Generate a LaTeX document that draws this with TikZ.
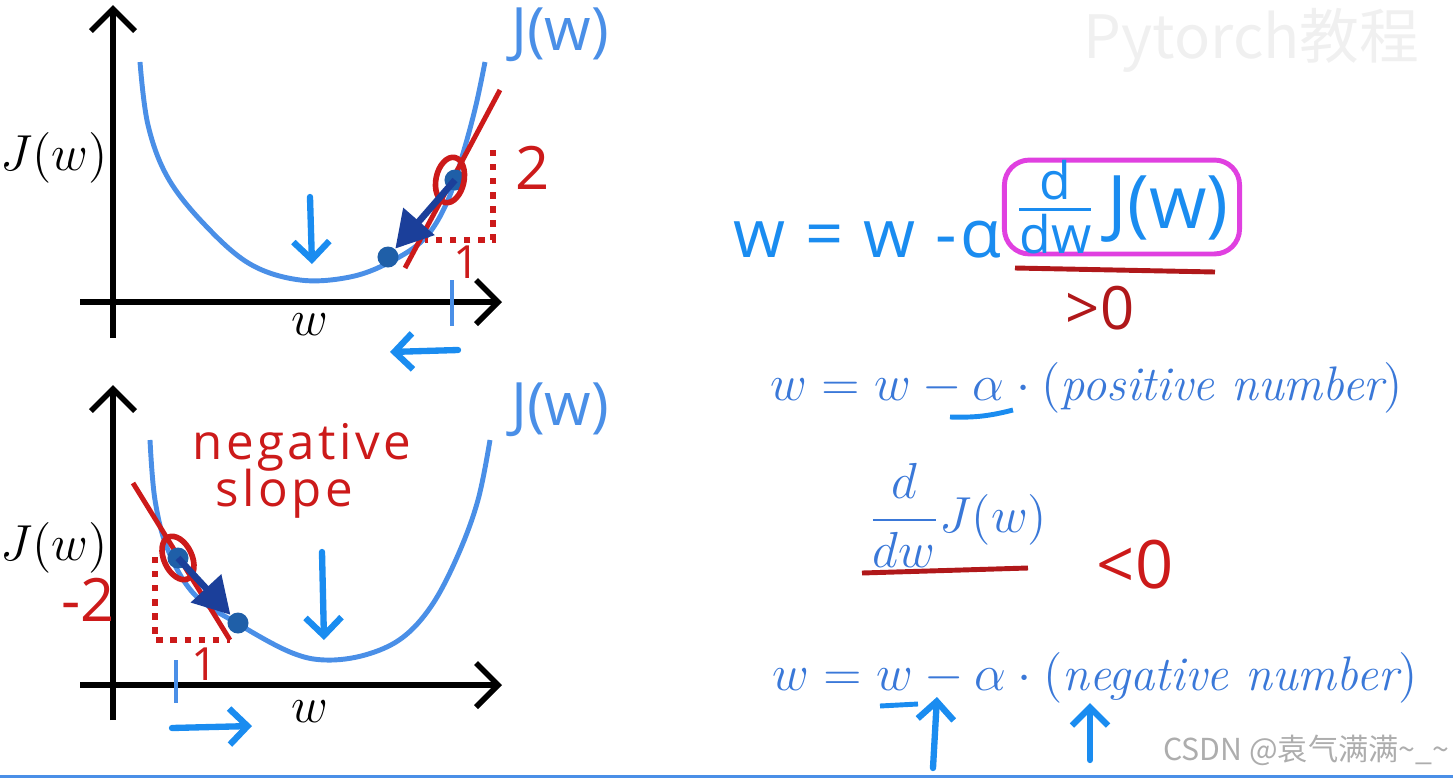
\documentclass[tikz,border=0pt]{standalone}
\usepackage{amsmath}
\usepackage{fontspec}
\usepackage{xcolor}
\usetikzlibrary{positioning, calc, arrows.meta, shapes.geometric}
\newfontfamily\handfont{Open Sans}
\newfontfamily\cjkfont{Noto Sans CJK SC}
\definecolor{curveblue}{HTML}{4A8FE7}
\definecolor{hintblue}{HTML}{1A8CF0}
\definecolor{eqblue}{HTML}{3A78D8}
\definecolor{ptblue}{HTML}{1F5FA8}
\definecolor{gradblue}{HTML}{1B3F9A}
\definecolor{slopered}{HTML}{CC1A1A}
\definecolor{darkred}{HTML}{B0181A}
\definecolor{boxpink}{HTML}{E040E0}

\begin{document}
\begin{tikzpicture}[x=0.01cm, y=-0.01cm, every node/.style={inner sep=0pt}]
  \tikzstyle{axis}=[line width=1.6pt, -{Straight Barb[length=2.2mm,width=4.4mm]}]
  \tikzstyle{cost}=[curveblue, line width=1.4pt]
  \tikzstyle{tangent}=[slopered, line width=1.4pt]
  \tikzstyle{dots}=[slopered, line width=1.8pt, dash pattern=on 1.8pt off 2.2pt]
  \tikzstyle{pt}=[circle, fill=ptblue, minimum size=0.21cm]
  \tikzstyle{ring}=[ellipse, draw=slopered, line width=1.6pt, minimum width=0.28cm, minimum height=0.46cm]
  \tikzstyle{grad}=[gradblue, line width=1.9pt, -{Triangle[length=3.6mm,width=4mm]}]
  \tikzstyle{hint}=[hintblue, line width=1.8pt, line cap=round, -{Straight Barb[length=1.8mm,width=3.6mm]}]
  \tikzstyle{tick}=[curveblue, line width=1.2pt]
  \tikzstyle{lbl}=[font=\fontsize{14.5}{17}\selectfont]
  \tikzstyle{hand}=[font=\handfont\fontsize{17}{20}\selectfont]
  \tikzstyle{spaced}=[font=\handfont\fontsize{14}{16}\selectfont\addfontfeature{LetterSpace=7}]
  \tikzstyle{eq}=[text=eqblue, font=\fontsize{13.8}{16}\selectfont]
  \useasboundingbox (0,0) rectangle (1453,778);

  % top plot: positive slope
  \coordinate (ytopS) at (113,338);
  \coordinate (ytopE) at (113,5);
  \coordinate (xtopS) at (80,302);
  \coordinate (xtopE) at (502,302);
  \draw[axis] (ytopS) -- (ytopE);
  \draw[axis] (xtopS) -- (xtopE);
  \node[lbl] (Jtop) at (54,158) {$J(w)$};
  \node[lbl] (wtop) at (310,325) {$w$};
  \draw[cost] plot[smooth, tension=0.6] coordinates {(140,62) (148,125) (168,178) (205,225) (250,264) (300,280) (350,277) (390,262) (425,238) (448,200) (464,150) (476,105) (485,62)};
  \node[hand, text=curveblue] (Jhtop) at (560,35) {J(w)};
  \draw[tangent] (405,268) -- (500,90);
  \draw[dots] (493,150) -- (493,240) -- (425,240);
  \node[hand, text=slopered] (risetop) at (533,168) {2};
  \node[hand, text=slopered, font=\handfont\fontsize{13}{15}\selectfont] (runtop) at (467,262) {1};
  \node[pt] (p1) at (455,180) {};
  \node[pt] (p2) at (388,257) {};
  \node[ring, rotate=-12] (c1) at (450,180) {};
  \draw[grad] (p1.center) -- (p2);
  \draw[tick] (452,280) -- (452,326);
  \coordinate (lftS) at (458,350);
  \coordinate (lftE) at (390,352);
  \draw[hint] (lftS) -- (lftE);
  \coordinate (dwnS) at (310,197);
  \coordinate (dwnE) at (312,264);
  \draw[hint] (dwnS) -- (dwnE);

  % bottom plot: negative slope
  \coordinate (ybotS) at (113,720);
  \coordinate (ybotE) at (113,385);
  \coordinate (xbotS) at (80,685);
  \coordinate (xbotE) at (502,685);
  \draw[axis] (ybotS) -- (ybotE);
  \draw[axis] (xbotS) -- (xbotE);
  \node[lbl] (Jbot) at (54,548) {$J(w)$};
  \node[lbl] (wbot) at (310,712) {$w$};
  \draw[cost] plot[smooth, tension=0.6] coordinates {(150,440) (155,500) (168,550) (195,595) (240,625) (290,652) (325,660) (365,655) (402,638) (432,605) (458,555) (478,500) (490,440)};
  \node[hand, text=curveblue] (Jhbot) at (560,410) {J(w)};
  \node[spaced, text=slopered] (negword) at (302,447) {negative};
  \node[spaced, text=slopered] (slopeword) at (284,494) {slope};
  \draw[tangent] (133,483) -- (230,640);
  \draw[dots] (155,557) -- (155,640) -- (230,640);
  \node[hand, text=slopered] (risebot) at (88,600) {-2};
  \node[hand, text=slopered, font=\handfont\fontsize{13}{15}\selectfont] (runbot) at (205,664) {1};
  \node[pt] (q1) at (178,558) {};
  \node[pt] (q2) at (238,623) {};
  \node[ring, rotate=25] (c2) at (178,558) {};
  \draw[grad] (q1.center) -- (q2);
  \draw[tick] (176,660) -- (176,703);
  \coordinate (rgtS) at (172,728);
  \coordinate (rgtE) at (252,726);
  \draw[hint] (rgtS) -- (rgtE);
  \coordinate (dwn2S) at (322,552);
  \coordinate (dwn2E) at (324,640);
  \draw[hint] (dwn2S) -- (dwn2E);

  % update rule, handwritten
  \node[hand, text=hintblue, font=\handfont\fontsize{19}{22}\selectfont\addfontfeature{LetterSpace=4}, anchor=west] (upd) at (733,240) {w = w -α};
  \node[draw=boxpink, line width=1.4pt, rounded corners=0.25cm, minimum width=2.35cm, minimum height=0.85cm,
        text=hintblue, font=\handfont\fontsize{21}{24}\selectfont] (gradbox) at (1122,207) {$\frac{\text{d}}{\text{dw}}$\,J(w)};
  \coordinate (ul1S) at (1015,268);
  \coordinate (ul1E) at (1215,272);
  \draw[darkred, line width=1.4pt] (ul1S) -- (ul1E);
  \node[hand, text=darkred, font=\handfont\fontsize{17}{20}\selectfont] (gtzero) at (1100,308) {>0};

  % typed update rules
  \node[eq] (pos) at (1087,388) {$w = w - \alpha\cdot(\textit{positive number})$};
  \coordinate (ul2S) at (950,417);
  \coordinate (ul2E) at (1013,410);
  \draw[hintblue, line width=1.4pt] (ul2S) to[bend right=8] (ul2E);
  \node[eq] (dJ) at (958,515) {$\dfrac{d}{dw}J(w)$};
  \coordinate (ul3S) at (862,573);
  \coordinate (ul3E) at (1028,568);
  \draw[darkred, line width=1.4pt] (ul3S) -- (ul3E);
  \node[hand, text=slopered, font=\handfont\fontsize{19}{22}\selectfont] (ltzero) at (1135,565) {<0};
  \node[eq] (neg) at (1095,678) {$w = w - \alpha\cdot(\textit{negative number})$};
  \coordinate (ul4S) at (880,706);
  \coordinate (ul4E) at (918,704);
  \draw[hintblue, line width=1.4pt] (ul4S) -- (ul4E);
  \coordinate (up1S) at (933,768);
  \coordinate (up1E) at (937,697);
  \draw[hint] (up1S) -- (up1E);
  \coordinate (up2S) at (1090,760);
  \coordinate (up2E) at (1090,703);
  \draw[hint] (up2S) -- (up2E);

  % watermarks and frame line
  \node[text=black!6, font=\cjkfont\fontsize{17}{20}\selectfont, anchor=east] (wm1) at (1420,40) {Pytorch教程};
  \node[text=black!32, font=\cjkfont\fontsize{8.6}{10}\selectfont, anchor=east] (wm2) at (1450,750) {CSDN @袁气满满\textasciitilde\_\textasciitilde};
  \draw[curveblue, line width=0.9pt] (0,776.5) -- (1453,776.5);
\end{tikzpicture}
\end{document}
